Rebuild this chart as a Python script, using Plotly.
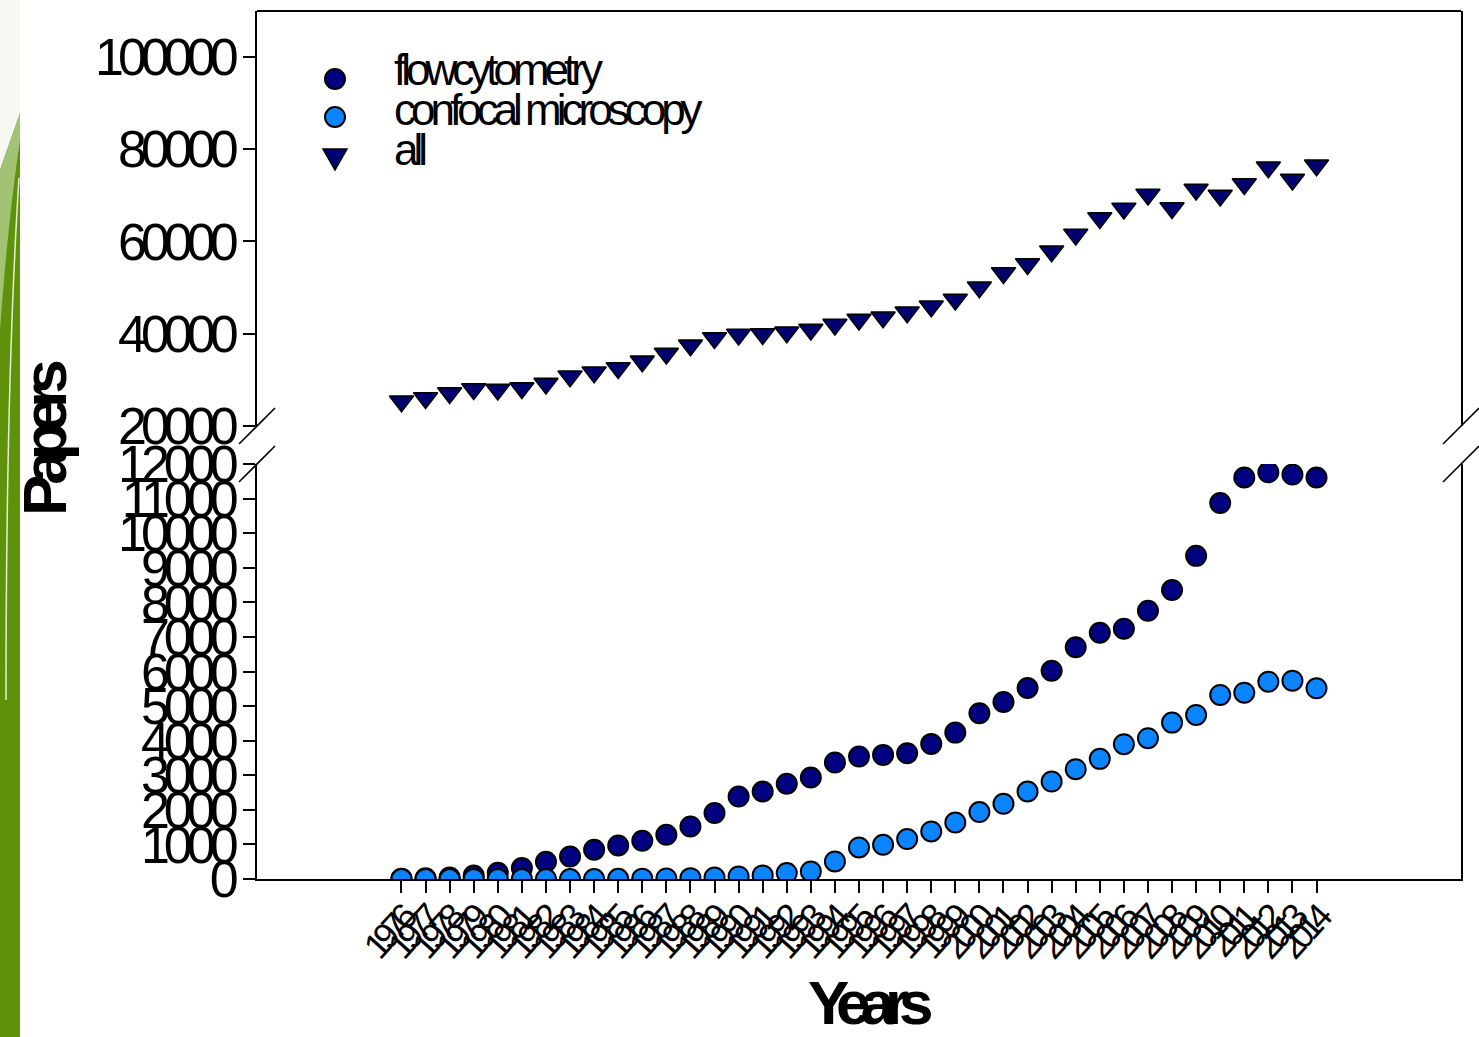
import plotly.graph_objects as go

# ---------------- data ----------------
years = list(range(1976, 2015))
year_labels = [str(y) for y in years]

flow_cytometry = [10, 20, 40, 100, 180, 320, 500, 653, 846, 970, 1106, 1279, 1519,
                  1906, 2385, 2530, 2752, 2934, 3367, 3540, 3589, 3638, 3907, 4233,
                  4794, 5120, 5524, 6024, 6699, 7121, 7237, 7756, 8354, 9344, 10875,
                  11608, 11761, 11695, 11608]

confocal_microscopy = [0, 0, 0, 0, 0, 0, 0, 0, 0, 5, 10, 15, 25,
                       46, 75, 104, 173, 219, 508, 912, 990, 1155, 1375, 1634,
                       1935, 2174, 2530, 2818, 3176, 3474, 3898, 4071, 4522, 4744, 5322,
                       5388, 5706, 5735, 5515]

all_papers = [25350, 26070, 27150, 28020, 27890, 28230, 29200, 30770, 31640, 32570,
              34020, 35690, 37490, 39070, 39800, 39930, 40300, 40890, 41970, 43050,
              43550, 44640, 45940, 47390, 50050, 53150, 55100, 57850, 61470, 65070,
              67110, 70140, 67240, 71220, 69920, 72440, 76060, 73390, 76490]

series_names = ["flowcytometry", "confocal microscopy", "all"]

low_ticks = [0, 1000, 2000, 3000, 4000, 5000, 6000, 7000, 8000, 9000, 10000, 11000, 12000]
high_ticks = [20000, 40000, 60000, 80000, 100000]

# ---------------- style ----------------
W, H = 1479, 1037
L, R, T, B = 257, 18, 11, 158
PW, PH = W - L - R, H - T - B
NAVY = "#000080"
NAVY_T = "#00006E"
AZURE = "#0A84FF"
FONT = "Liberation Sans, Arial, Helvetica, sans-serif"


def px(x):
    return (x - L) / PW


def py(y):
    return (H - B - y) / PH


low_dom = [0, py(464)]
high_dom = [py(426), 1]

fig = go.Figure()
fig.add_trace(go.Scatter(x=years, y=flow_cytometry, mode="markers", name=series_names[0],
                         marker=dict(symbol="circle", size=20, color=NAVY,
                                     line=dict(color="black", width=2)),
                         xaxis="x", yaxis="y"))
fig.add_trace(go.Scatter(x=years, y=confocal_microscopy, mode="markers", name=series_names[1],
                         marker=dict(symbol="circle", size=20, color=AZURE,
                                     line=dict(color="black", width=2)),
                         xaxis="x", yaxis="y"))
fig.add_trace(go.Scatter(x=years, y=all_papers, mode="markers", name=series_names[2],
                         marker=dict(symbol="triangle-down", size=21, color=NAVY_T,
                                     line=dict(color="black", width=1.5)),
                         xaxis="x", yaxis="y2"))

shapes = []
# background decoration (left green stripe)
shapes.append(dict(type="rect", xref="paper", yref="paper", x0=px(0), x1=px(20), y0=py(H), y1=py(0),
                   fillcolor="#5E920A", line=dict(width=0), layer="below"))
shapes.append(dict(type="path", xref="paper", yref="paper",
                   path=f"M {px(0)},{py(0)} L {px(20)},{py(0)} L {px(20)},{py(113)} L {px(0)},{py(170)} Z",
                   fillcolor="#F8F8F3", line=dict(width=0), layer="below"))
shapes.append(dict(type="path", xref="paper", yref="paper",
                   path=f"M {px(0)},{py(170)} L {px(20)},{py(113)} L {px(20)},{py(140)} "
                        f"Q {px(8)},{py(220)} {px(0)},{py(330)} Z",
                   fillcolor="#A3C374", line=dict(width=0), layer="below"))
shapes.append(dict(type="path", xref="paper", yref="paper",
                   path=f"M {px(19)},{py(178)} Q {px(6)},{py(380)} {px(6)},{py(700)}",
                   line=dict(color="#E6EFD6", width=1.5), layer="below"))

# frame top line
shapes.append(dict(type="line", xref="paper", yref="paper", x0=0, x1=1, y0=1, y1=1,
                   line=dict(color="black", width=2)))
# axis break marks
for bx in (0, 1):
    for by in (426, 464):
        shapes.append(dict(type="line", xref="paper", yref="paper",
                           x0=bx - 18 / PW, x1=bx + 18 / PW,
                           y0=py(by + 18), y1=py(by - 18),
                           line=dict(color="black", width=1.6)))

# manual legend markers
shapes.append(dict(type="circle", xref="paper", yref="paper",
                   x0=px(325), x1=px(345), y0=py(89), y1=py(69),
                   fillcolor=NAVY, line=dict(color="black", width=2)))
shapes.append(dict(type="circle", xref="paper", yref="paper",
                   x0=px(325), x1=px(345), y0=py(127), y1=py(107),
                   fillcolor=AZURE, line=dict(color="black", width=2)))
shapes.append(dict(type="path", xref="paper", yref="paper",
                   path=f"M {px(323)},{py(149)} L {px(347)},{py(149)} L {px(335)},{py(170)} Z",
                   fillcolor=NAVY_T, line=dict(color="black", width=1.5)))

annotations = []
for i, yy in enumerate([70, 110, 149]):
    annotations.append(dict(xref="paper", yref="paper", x=px(392), y=py(yy),
                            xanchor="left", yanchor="middle", align="left", showarrow=False,
                            text=series_names[i],
                            font=dict(family=FONT, size=44, color="black")))
annotations.append(dict(xref="paper", yref="paper", x=px(45), y=py(443),
                        xanchor="center", yanchor="middle", showarrow=False, textangle=-90,
                        text="<b>Papers</b>", font=dict(family=FONT, size=62, color="black")))
annotations.append(dict(xref="paper", yref="paper", x=px(866), y=py(1002),
                        xanchor="center", yanchor="middle", showarrow=False,
                        text="<b>Years</b>", font=dict(family=FONT, size=62, color="black")))

axis_common = dict(ticks="outside", ticklen=12, tickwidth=2, tickcolor="black",
                   showline=True, linecolor="black", linewidth=2,
                   showgrid=False, zeroline=False, automargin=False)

fig.update_layout(
    width=W, height=H, autosize=False,
    margin=dict(l=L, r=R, t=T, b=B, autoexpand=False),
    paper_bgcolor="white", plot_bgcolor="white",
    showlegend=False,
    font=dict(family=FONT, color="black"),
    xaxis=dict(range=[1970, 2020], tickmode="array", tickvals=years, ticktext=year_labels,
               tickangle=-48, ticklabelstandoff=-8,
               tickfont=dict(family=FONT, size=36, color="black"),
               anchor="y", **axis_common),
    yaxis=dict(domain=low_dom, range=[0, 12000], tickmode="array", tickvals=low_ticks,
               ticktext=[str(v) for v in low_ticks], mirror=True,
               tickfont=dict(family=FONT, size=52, color="black"), anchor="x", **axis_common),
    yaxis2=dict(domain=high_dom, range=[20000, 109900], tickmode="array", tickvals=high_ticks,
                ticktext=[str(v) for v in high_ticks], mirror=True,
                tickfont=dict(family=FONT, size=52, color="black"), anchor="x", **axis_common),
    shapes=shapes,
    annotations=annotations,
)

post = """
document.body.style.margin = '0';
document.body.style.overflow = 'hidden';
var gd = document.getElementById('{plot_id}');
function ls(sel, v) { gd.querySelectorAll(sel).forEach(function (t) { t.style.letterSpacing = v; }); }
ls('g.xtick text', '-7px');
ls('g.ytick text', '-6px');
ls('g.y2tick text', '-6px');
ls('g.annotation[data-index="0"] text', '-5px');
ls('g.annotation[data-index="1"] text', '-5px');
ls('g.annotation[data-index="2"] text', '-5px');
ls('g.annotation[data-index="3"] text', '-10px');
ls('g.annotation[data-index="4"] text', '-10px');
"""

fig.write_html("out.html", post_script=post, config={"responsive": False, "displayModeBar": False})
